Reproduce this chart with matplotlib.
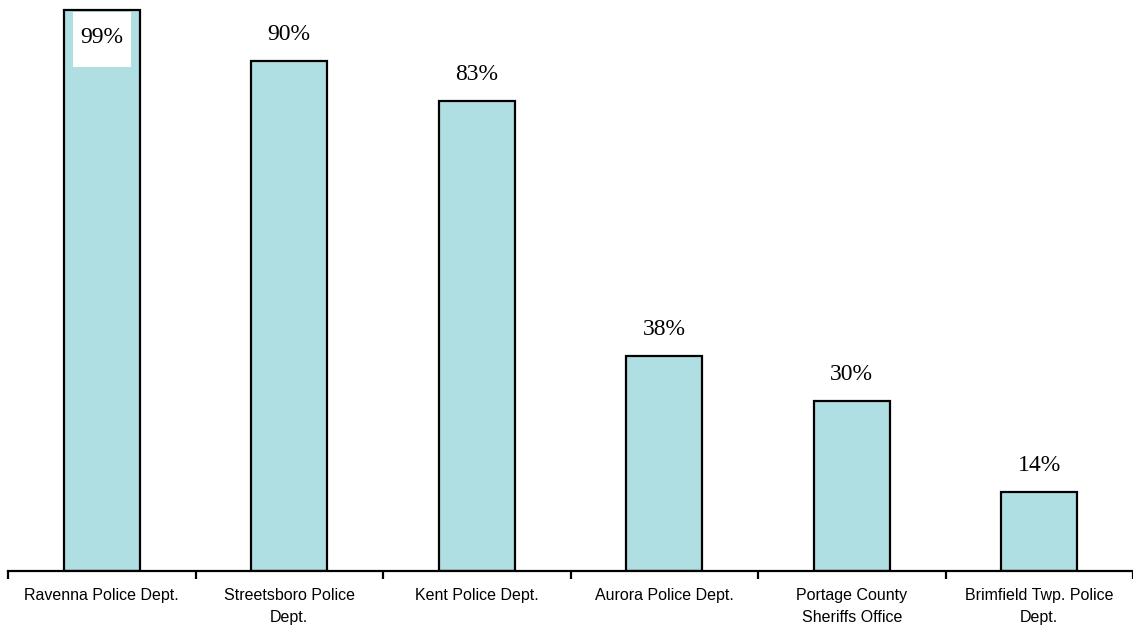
import numpy as np
from matplotlib import pyplot as plt
from matplotlib.patches import Rectangle

departments = ["Ravenna Police Dept.", "Streetsboro Police\nDept.", "Kent Police Dept.",
               "Aurora Police Dept.", "Portage County\nSheriffs Office", "Brimfield Twp. Police\nDept."]
percents = [99, 90, 83, 38, 30, 14]

fig = plt.figure(figsize=(11.33, 6.29), dpi=100)
ax = fig.add_axes([8 / 1133, 58 / 629, 1 - 8 / 1133, 571 / 629])

x = np.arange(len(departments))
bar_w = 0.405
ax.bar(x, percents, width=bar_w, color="#b0dfe3", edgecolor="black", linewidth=1.6, zorder=2)

ax.set_xlim(-0.5, len(departments) - 0.5)
ax.set_ylim(0, 100.8)

for xi, p in zip(x, percents):
    if p > 95:
        # no room above the tallest bar, label goes inside on a white patch
        ax.add_patch(Rectangle((xi - 0.38 * bar_w, p - 10), 0.76 * bar_w, 9.6,
                               facecolor="white", edgecolor="none", zorder=3))
        ax.text(xi, p - 4.8, f"{p}%", ha="center", va="center", family="Liberation Serif",
                fontsize=17, zorder=4)
    else:
        ax.text(xi, p + 4.7, f"{p}%", ha="center", va="center", family="Liberation Serif",
                fontsize=17)

for s in ["top", "left", "right"]:
    ax.spines[s].set_visible(False)
ax.spines["bottom"].set_linewidth(1.6)
ax.set_yticks([])

ax.set_xticks(x)
ax.set_xticklabels(departments, family="Liberation Sans", fontsize=11.5, linespacing=1.6)
ax.tick_params(axis="x", which="major", length=0, pad=12)
ax.set_xticks(np.arange(len(departments) + 1) - 0.5, minor=True)
ax.tick_params(axis="x", which="minor", length=6, width=1.6)

fig.savefig("out.png", dpi=100)
